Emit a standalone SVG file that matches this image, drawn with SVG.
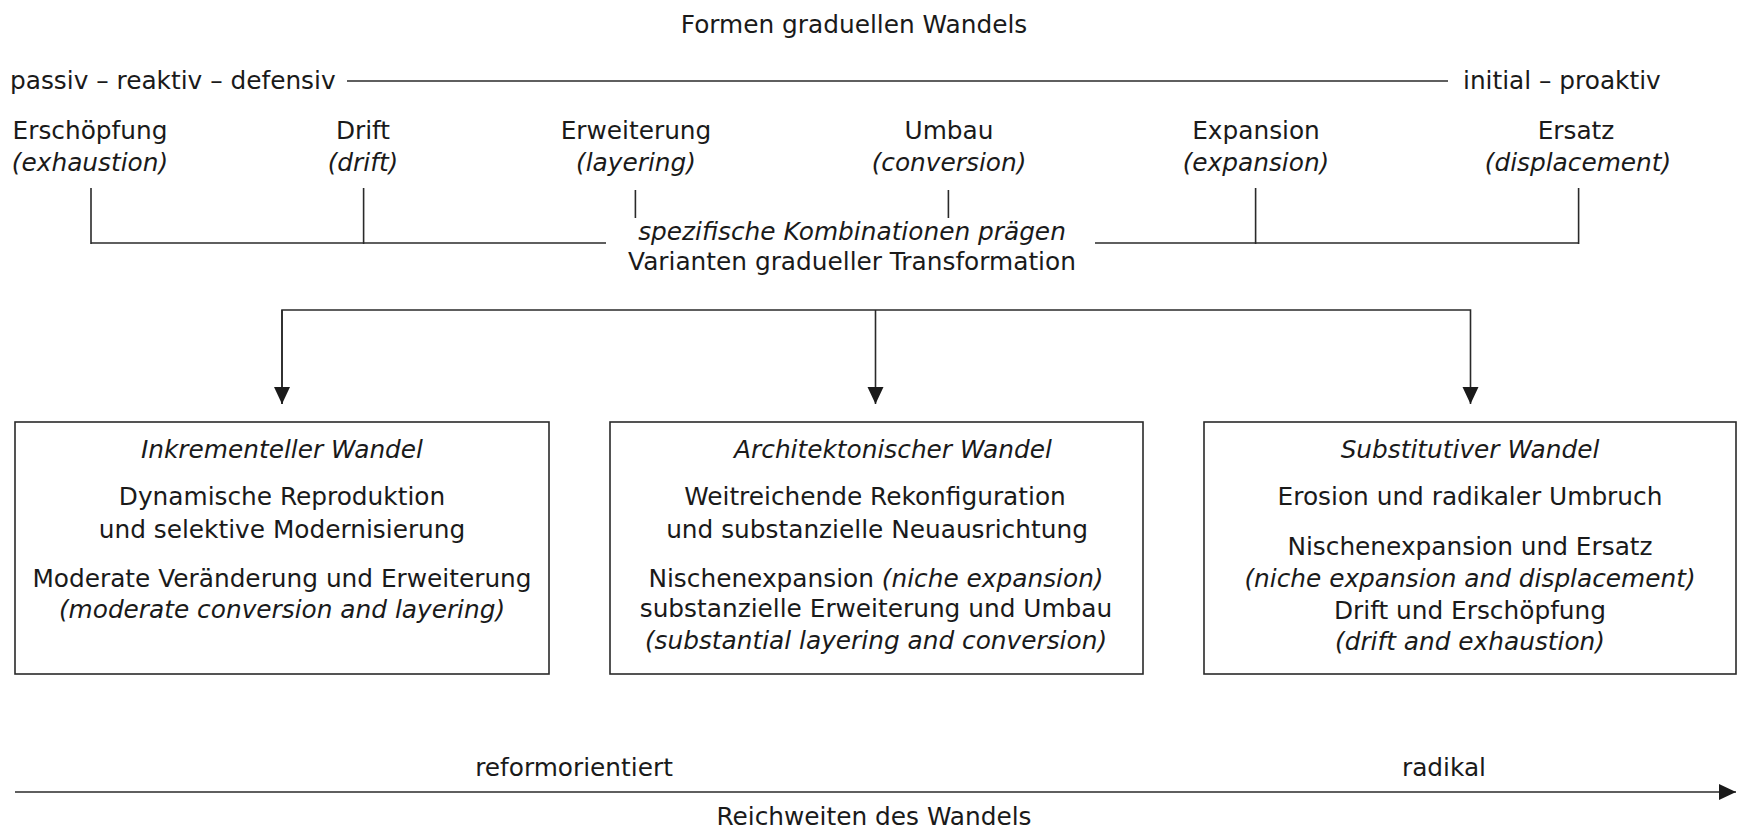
<svg xmlns="http://www.w3.org/2000/svg" width="1741" height="832" viewBox="0 0 1741 832">
<style>
text{font-family:"DejaVu Sans","Open Sans","Liberation Sans",sans-serif;font-size:24.8px;fill:#1a1a1a;text-anchor:middle}
.i{font-style:italic}
.s{text-anchor:start}
.ln{stroke:#2a2a2a;stroke-width:1.6;fill:none}
.box{fill:#ffffff;stroke:#2a2a2a;stroke-width:1.6}
</style>
<defs>
<marker id="ah" markerUnits="userSpaceOnUse" markerWidth="18" markerHeight="18" refX="17" refY="8" orient="auto">
<path d="M0,0 L17,8 L0,16 Z" fill="#1a1a1a"/>
</marker>
</defs>
<rect width="1741" height="832" fill="#ffffff"/>

<g id="header">
<text x="854" y="33">Formen graduellen Wandels</text>
<text class="s" x="10" y="89">passiv – reaktiv – defensiv</text>
<text class="s" x="1463" y="89">initial – proaktiv</text>
</g>

<g id="form-erschoepfung">
<text x="90" y="139">Erschöpfung</text>
<text class="i" x="90" y="171">(exhaustion)</text>
</g>
<g id="form-drift">
<text x="363" y="139">Drift</text>
<text class="i" x="363" y="171">(drift)</text>
</g>
<g id="form-erweiterung">
<text x="636" y="139">Erweiterung</text>
<text class="i" x="636" y="171">(layering)</text>
</g>
<g id="form-umbau">
<text x="949" y="139">Umbau</text>
<text class="i" x="949" y="171">(conversion)</text>
</g>
<g id="form-expansion">
<text x="1256" y="139">Expansion</text>
<text class="i" x="1256" y="171">(expansion)</text>
</g>
<g id="form-ersatz">
<text x="1576" y="139">Ersatz</text>
<text class="i" x="1578" y="171">(displacement)</text>
</g>

<g id="combination">
<text class="i" x="852" y="240">spezifische Kombinationen prägen</text>
<text x="852" y="270">Varianten gradueller Transformation</text>
</g>

<g id="box-inkrementell">
<rect class="box" x="15" y="422" width="534" height="252"/>
<text class="i" x="282" y="458">Inkrementeller Wandel</text>
<text x="282" y="505">Dynamische Reproduktion</text>
<text x="282" y="538">und selektive Modernisierung</text>
<text x="282" y="587">Moderate Veränderung und Erweiterung</text>
<text class="i" x="282" y="618">(moderate conversion and layering)</text>
</g>

<g id="box-architektonisch">
<rect class="box" x="610" y="422" width="533" height="252"/>
<text class="i" x="893" y="458">Architektonischer Wandel</text>
<text x="875" y="505">Weitreichende Rekonfiguration</text>
<text x="877" y="538">und substanzielle Neuausrichtung</text>
<text x="876" y="587">Nischenexpansion <tspan class="i">(niche expansion)</tspan></text>
<text x="876" y="617">substanzielle Erweiterung und Umbau</text>
<text class="i" x="876" y="649">(substantial layering and conversion)</text>
</g>

<g id="box-substitutiv">
<rect class="box" x="1204" y="422" width="532" height="252"/>
<text class="i" x="1470" y="458">Substitutiver Wandel</text>
<text x="1470" y="505">Erosion und radikaler Umbruch</text>
<text x="1470" y="555">Nischenexpansion und Ersatz</text>
<text class="i" x="1470" y="587">(niche expansion and displacement)</text>
<text x="1470" y="619">Drift und Erschöpfung</text>
<text class="i" x="1470" y="650">(drift and exhaustion)</text>
</g>

<g id="scale">
<text x="574" y="776">reformorientiert</text>
<text x="1444" y="776">radikal</text>
<text x="874" y="825">Reichweiten des Wandels</text>
</g>

<g id="connectors">
<line class="ln" x1="347" y1="81" x2="1448" y2="81"/>
<line class="ln" x1="91" y1="188" x2="91" y2="244"/>
<line class="ln" x1="363.6" y1="188" x2="363.6" y2="244"/>
<line class="ln" x1="635.4" y1="190" x2="635.4" y2="218"/>
<line class="ln" x1="948.4" y1="190" x2="948.4" y2="218"/>
<line class="ln" x1="1255.6" y1="188" x2="1255.6" y2="244"/>
<line class="ln" x1="1578.6" y1="188" x2="1578.6" y2="244"/>
<line class="ln" x1="91" y1="243" x2="606" y2="243"/>
<line class="ln" x1="1095" y1="243" x2="1578.6" y2="243"/>
<path class="ln" d="M282,404 V310 H1470.5 V404" marker-end="url(#ah)"/>
<line class="ln" x1="282" y1="310" x2="282" y2="404" marker-end="url(#ah)"/>
<line class="ln" x1="875.5" y1="310" x2="875.5" y2="404" marker-end="url(#ah)"/>
<line class="ln" x1="15" y1="792" x2="1736" y2="792" stroke-width="2.2" marker-end="url(#ah)"/>
</g>
</svg>
